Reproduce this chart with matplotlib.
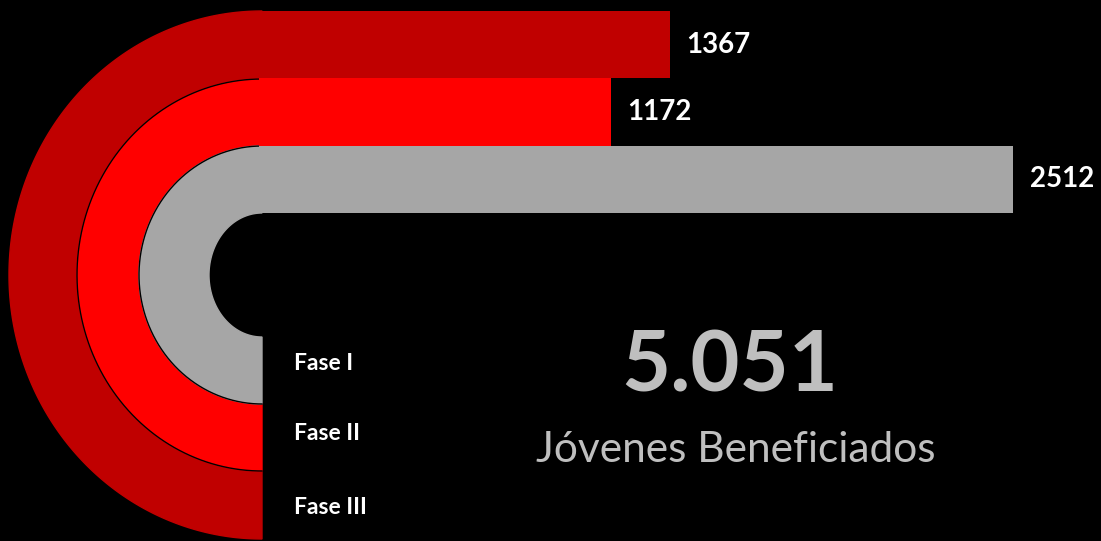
import numpy as np
import matplotlib
matplotlib.use("Agg")
import matplotlib.pyplot as plt

# data
phases = ["Fase I", "Fase II", "Fase III"]
values = [2512, 1172, 1367]
colors = ["#A6A6A6", "#FF0000", "#C00000"]
total = sum(values)
subtitle = "Jóvenes Beneficiados"

W, H = 1101, 541
fig = plt.figure(figsize=(W / 100, H / 100), dpi=100, facecolor="black")

# ── rings (pixel coordinates) ───────────────────────────────────────────────
ax = fig.add_axes([0, 0, 1, 1])
ax.set_facecolor("black")
ax.set_xlim(0, W)
ax.set_ylim(H, 0)
ax.axis("off")

cx, cy = 262, 275
# (horizontal, vertical) radii of ring boundaries, inner to outer
bounds = [(53, 62), (123, 129), (185, 196), (253, 264)]
t = np.linspace(np.pi / 2, 3 * np.pi / 2, 300)
for i in range(len(phases) - 1, -1, -1):
    (ai, bi), (ao, bo) = bounds[i], bounds[i + 1]
    xs = np.concatenate([cx + ao * np.cos(t), cx + ai * np.cos(t[::-1])])
    ys = np.concatenate([cy - bo * np.sin(t), cy - bi * np.sin(t[::-1])])
    ax.fill(xs, ys, color=colors[i], zorder=2)
    if i < len(phases) - 1:
        ax.plot(cx + ao * np.cos(t), cy - bo * np.sin(t), color="black", lw=1.0, zorder=3)

font = ["Lato", "DejaVu Sans"]
for i, name in enumerate(phases):
    ax.text(294, [364, 433, 508][i], name, color="white", fontsize=16.5,
            fontweight="bold", family=font, va="center", ha="left", zorder=4)

ax.text(730, 392, f"{total:,}".replace(",", "."), color="#BFBFBF", fontsize=61,
        fontweight="bold", family=font, ha="center", va="baseline")
ax.text(736, 462, subtitle, color="#BFBFBF", fontsize=30.5,
        family=font, ha="center", va="baseline")

# ── bars ────────────────────────────────────────────────────────────────────
x0, top, bot = 259, 11, 213
px_per_unit = 0.3003
bx = fig.add_axes([x0 / W, 1 - bot / H, 1 - x0 / W, (bot - top) / H])
bx.set_facecolor("none")
bx.set_xlim(0, (W - x0) / px_per_unit)
bx.set_ylim(-0.5, len(values) - 0.5)
bx.axis("off")
bx.barh(range(len(values)), values, height=1.0, color=colors, zorder=2)
for i, v in enumerate(values):
    bx.annotate(str(v), (v, i), xytext=(12, 0), textcoords="offset points",
                color="white", fontsize=20, fontweight="bold", family=font,
                va="center", ha="left")

fig.savefig("out.png", dpi=100, facecolor="black")
